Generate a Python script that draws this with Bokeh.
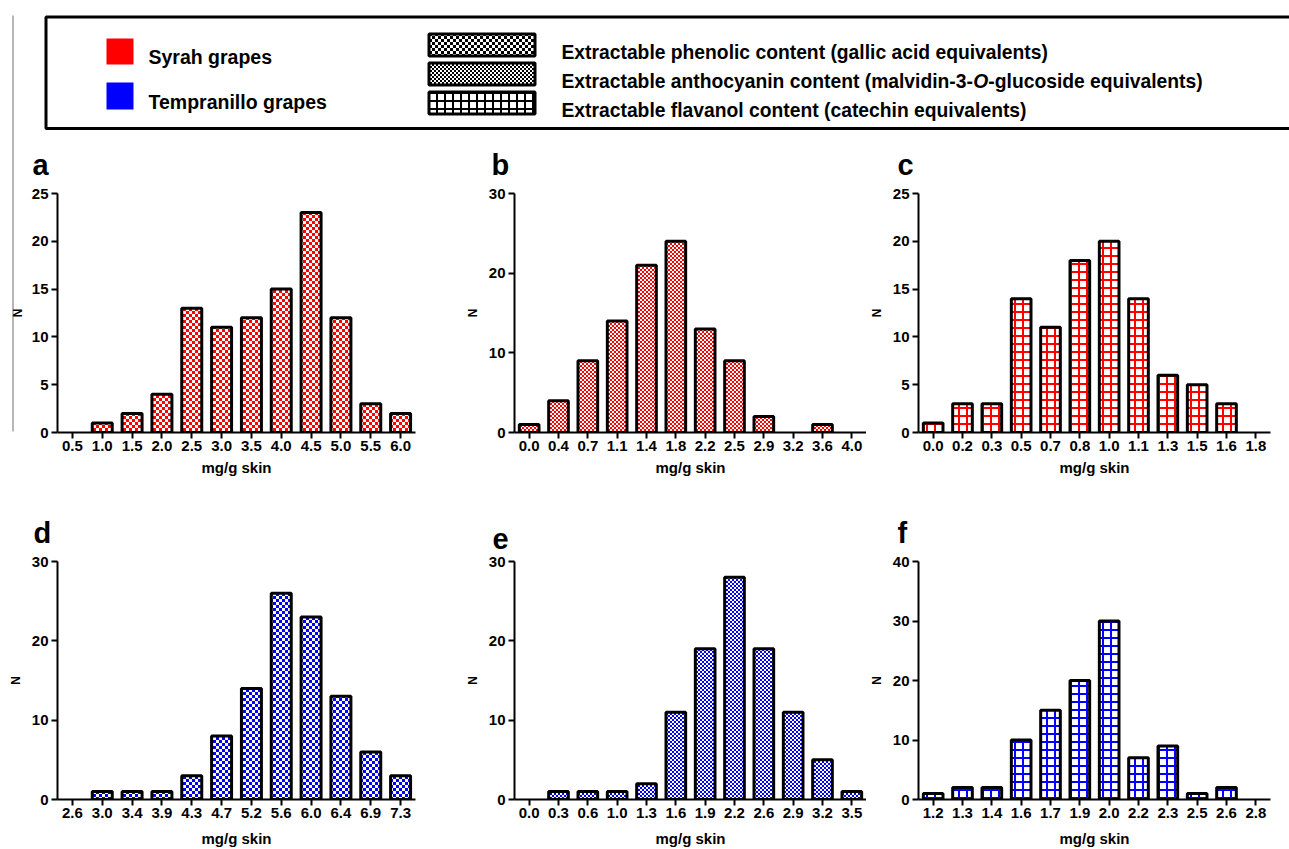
import math
import base64
from bokeh.plotting import figure
from bokeh.models import FactorRange, Range1d, FixedTicker, ImageURLTexture, ColumnDataSource
from bokeh.layouts import row, column
from bokeh.core.properties import value
from bokeh.embed import file_html
from bokeh.resources import INLINE

FONT = "Liberation Sans"
RED = "#ff0000"
BLUE = "#0000ff"

# ---------------- data ----------------
a_cats = ["0.5", "1.0", "1.5", "2.0", "2.5", "3.0", "3.5", "4.0", "4.5", "5.0", "5.5", "6.0"]
a_vals = [0, 1, 2, 4, 13, 11, 12, 15, 23, 12, 3, 2]
a_yticks = [0, 5, 10, 15, 20, 25]

b_cats = ["0.0", "0.4", "0.7", "1.1", "1.4", "1.8", "2.2", "2.5", "2.9", "3.2", "3.6", "4.0"]
b_vals = [1, 4, 9, 14, 21, 24, 13, 9, 2, 0, 1, 0]
b_yticks = [0, 10, 20, 30]

c_cats = ["0.0", "0.2", "0.3", "0.5", "0.7", "0.8", "1.0", "1.1", "1.3", "1.5", "1.6", "1.8"]
c_vals = [1, 3, 3, 14, 11, 18, 20, 14, 6, 5, 3, 0]
c_yticks = [0, 5, 10, 15, 20, 25]

d_cats = ["2.6", "3.0", "3.4", "3.9", "4.3", "4.7", "5.2", "5.6", "6.0", "6.4", "6.9", "7.3"]
d_vals = [0, 1, 1, 1, 3, 8, 14, 26, 23, 13, 6, 3]
d_yticks = [0, 10, 20, 30]

e_cats = ["0.0", "0.3", "0.6", "1.0", "1.3", "1.6", "1.9", "2.2", "2.6", "2.9", "3.2", "3.5"]
e_vals = [0, 1, 1, 1, 2, 11, 19, 28, 19, 11, 5, 1]
e_yticks = [0, 10, 20, 30]

f_cats = ["1.2", "1.3", "1.4", "1.6", "1.7", "1.9", "2.0", "2.2", "2.3", "2.5", "2.6", "2.8"]
f_vals = [1, 2, 2, 10, 15, 20, 30, 7, 9, 1, 2, 0]
f_yticks = [0, 10, 20, 30, 40]

x_label = "mg/g skin"
y_label = "N"
grape_labels = ["Syrah grapes", "Tempranillo grapes"]
content_labels = [
    "Extractable phenolic content (gallic acid equivalents)",
    ("Extractable anthocyanin content (malvidin-3-", "O", "-glucoside equivalents)"),
    "Extractable flavanol content (catechin equivalents)",
]


# ---------------- checker textures (vector SVG tiles) ----------------
def checker(color, cell):
    n = 2 * cell
    svg = (f'<svg xmlns="http://www.w3.org/2000/svg" width="{n}" height="{n}" '
           f'viewBox="0 0 {n} {n}" shape-rendering="crispEdges">'
           f'<rect x="0" y="0" width="{n}" height="{n}" fill="#ffffff"/>'
           f'<rect x="0" y="0" width="{cell}" height="{cell}" fill="{color}"/>'
           f'<rect x="{cell}" y="{cell}" width="{cell}" height="{cell}" fill="{color}"/></svg>')
    url = "data:image/svg+xml;base64," + base64.b64encode(svg.encode()).decode()
    return ImageURLTexture(url=url, repetition="repeat")


TEX = {
    "red3": checker(RED, 3), "red2": checker(RED, 2),
    "blue3": checker(BLUE, 3), "blue2": checker(BLUE, 2),
    "black3": checker("#000000", 3), "black2": checker("#000000", 2),
}


def style_axes(p, show_ylabel, xlab_standoff):
    for ax in (p.xaxis[0], p.yaxis[0]):
        ax.axis_line_width = 2
        ax.axis_line_color = "black"
        ax.major_tick_line_width = 2
        ax.major_tick_line_color = "black"
        ax.major_tick_in = 0
        ax.major_tick_out = 6
        ax.minor_tick_line_color = None
        ax.major_label_text_font = FONT
        ax.major_label_text_font_style = "bold"
        ax.major_label_text_font_size = "15px"
        ax.major_label_text_color = "black"
        ax.axis_label_text_font = FONT
        ax.axis_label_text_font_style = "bold"
        ax.axis_label_text_color = "black"
    xa = p.xaxis[0]
    xa.axis_label = x_label
    xa.axis_label_text_font_size = "15px"
    xa.axis_label_standoff = xlab_standoff
    xa.major_label_standoff = 2
    ya = p.yaxis[0]
    ya.major_label_standoff = 3
    if show_ylabel:
        ya.axis_label = y_label
        ya.axis_label_text_font_size = "12px"
        ya.axis_label_standoff = 6


def panel(cats, vals, yticks, letter, color, kind, width, left, right, height, top, bottom,
          letter_dx, xlab_standoff, show_ylabel=True):
    p = figure(width=width, height=height, x_range=FactorRange(factors=cats),
               y_range=Range1d(0, yticks[-1]), output_backend="svg", toolbar_location=None,
               min_border_left=left, min_border_right=right, min_border_top=top,
               min_border_bottom=bottom)
    p.xgrid.visible = False
    p.ygrid.visible = False
    p.outline_line_color = None
    p.yaxis[0].ticker = FixedTicker(ticks=yticks)
    style_axes(p, show_ylabel, xlab_standoff)

    p.title.text = letter
    p.title.align = "left"
    p.title.offset = letter_dx
    p.title.standoff = 25
    p.title.text_font = FONT
    p.title.text_font_style = "bold"
    p.title.text_font_size = "29px"
    p.title.text_color = "black"

    xs = [c for c, v in zip(cats, vals) if v > 0]
    ts = [v for v in vals if v > 0]
    if kind == "grid":
        src = ColumnDataSource(dict(x=xs, top=ts))
        p.vbar(x="x", top="top", width=0.67, source=src, fill_color="white", line_color="black",
               line_width=3, hatch_pattern="+", hatch_color=color, hatch_scale=8, hatch_weight=2)
    else:
        name = ("red" if color == RED else "blue") + ("3" if kind == "checker" else "2")
        src = ColumnDataSource(dict(x=xs, top=ts, pat=[name] * len(xs)))
        p.vbar(x="x", top="top", width=0.67, source=src, fill_color="white", line_color="black",
               line_width=3, hatch_pattern="pat", hatch_color=color,
               hatch_extra={name: TEX[name]})
    return p


# ---------------- layout sizes ----------------
LEG_H = 131
TOP_H, TOP_T, TOP_B = 366, 62, 65
BOT_H, BOT_T, BOT_B = 352, 64, 50

pa = panel(a_cats, a_vals, a_yticks, "a", RED, "checker", 438, 33, 47, TOP_H, TOP_T, TOP_B, -25, 5,
           show_ylabel=False)
pb = panel(b_cats, b_vals, b_yticks, "b", RED, "fine", 404, 50, 0, TOP_H, TOP_T, TOP_B, -23, 5)
pc = panel(c_cats, c_vals, c_yticks, "c", RED, "grid", 423, 46, 19, TOP_H, TOP_T, TOP_B, -21, 5)
pd = panel(d_cats, d_vals, d_yticks, "d", BLUE, "checker", 462, 57, 47, BOT_H, BOT_T, BOT_B, -24, 9)
pe = panel(e_cats, e_vals, e_yticks, "e", BLUE, "fine", 404, 50, 0, BOT_H, BOT_T, BOT_B, -22, 9)
pf = panel(f_cats, f_vals, f_yticks, "f", BLUE, "grid", 423, 46, 19, BOT_H, BOT_T, BOT_B, -21, 9)

# ---------------- legend ----------------
leg = figure(width=1265, height=LEG_H, x_range=Range1d(24, 1289), y_range=Range1d(LEG_H, 0),
             output_backend="svg", toolbar_location=None, x_axis_location=None,
             y_axis_location=None, min_border=0)
leg.xgrid.visible = False
leg.ygrid.visible = False
leg.outline_line_color = None

leg.quad(left=[45.5], right=[1330], top=[16.5], bottom=[128], fill_color=None,
         line_color="black", line_width=3)
leg.quad(left=[106, 106], right=[133, 133], top=[38, 82], bottom=[64, 109],
         fill_color=[RED, BLUE], line_color=None)
leg.text(x=[148, 148], y=[56.5, 101.5], text=grape_labels, text_font=value(FONT),
         text_font_style="bold", text_font_size="19.5px", text_baseline="alphabetic",
         text_align="left", text_color="black")

leg.quad(left="left", right="right", top="top", bottom="bottom", source=ColumnDataSource(
    dict(left=[428.5], right=[534.5], top=[33.5], bottom=[55.5], pat=["black3"])),
    fill_color="white", line_color="black", line_width=3, hatch_pattern="pat",
    hatch_color="black", hatch_extra={"black3": TEX["black3"]})
leg.quad(left="left", right="right", top="top", bottom="bottom", source=ColumnDataSource(
    dict(left=[428.5], right=[534.5], top=[62.5], bottom=[84.5], pat=["black2"])),
    fill_color="white", line_color="black", line_width=3, hatch_pattern="pat",
    hatch_color="black", hatch_extra={"black2": TEX["black2"]})
leg.quad(left=[428.5], right=[534.5], top=[91.5], bottom=[113.5], fill_color="white",
         line_color="black", line_width=3, hatch_pattern="+", hatch_scale=8, hatch_weight=2,
         hatch_color="black")

# Arial/Liberation Sans Bold advance widths (per 1000 em)
AB = {' ': 278, '(': 333, ')': 333, '-': 333, '3': 556, 'E': 667, 'O': 778, 'a': 556, 'b': 611,
      'c': 556, 'd': 611, 'e': 556, 'g': 611, 'h': 611, 'i': 278, 'l': 278, 'm': 889, 'n': 611,
      'o': 611, 'p': 611, 'q': 611, 'r': 389, 's': 556, 't': 333, 'u': 611, 'v': 556, 'x': 556,
      'y': 556, 'f': 333, 'k': 556}


def tw(s, size):
    return sum(AB.get(ch, 556) for ch in s) * size / 1000.0


LEG_FS = 19.3
tx = 561
leg.text(x=[tx, tx], y=[51.5, 109.5], text=[content_labels[0], content_labels[2]],
         text_font=value(FONT), text_font_style="bold", text_font_size=f"{LEG_FS}px",
         text_baseline="alphabetic", text_align="left", text_color="black")
p1, p2, p3 = content_labels[1]
w1 = tw(p1, LEG_FS)
w2 = tw(p2, LEG_FS)
leg.text(x=[tx, tx + w1 + w2], y=[80.5, 80.5], text=[p1, p3], text_font=value(FONT),
         text_font_style="bold", text_font_size=f"{LEG_FS}px", text_baseline="alphabetic",
         text_align="left", text_color="black")
leg.text(x=[tx + w1], y=[80.5], text=[p2], text_font=value(FONT), text_font_style="bold italic",
         text_font_size=f"{LEG_FS}px", text_baseline="alphabetic", text_align="left",
         text_color="black")

# ---------------- left strip (crop line + N of panel a) ----------------
STRIP_H = LEG_H + TOP_H
strip = figure(width=24, height=STRIP_H, x_range=Range1d(0, 24), y_range=Range1d(0, STRIP_H),
               output_backend="svg", toolbar_location=None, x_axis_location=None,
               y_axis_location=None, min_border=0)
strip.xgrid.visible = False
strip.ygrid.visible = False
strip.outline_line_color = None
strip.segment(x0=[12.5], y0=[STRIP_H - 15], x1=[12.5], y1=[STRIP_H - 431], line_color="#6e6e6e",
              line_width=1)
strip.text(x=[17.5], y=[STRIP_H - 312.5], text=[y_label], angle=math.pi / 2,
           text_font=value(FONT), text_font_style="bold", text_font_size="12px",
           text_align="center", text_baseline="middle", text_color="black")

layout = column(row(strip, column(leg, row(pa, pb, pc))), row(pd, pe, pf))

open("out.html", "w").write(file_html(layout, INLINE))
